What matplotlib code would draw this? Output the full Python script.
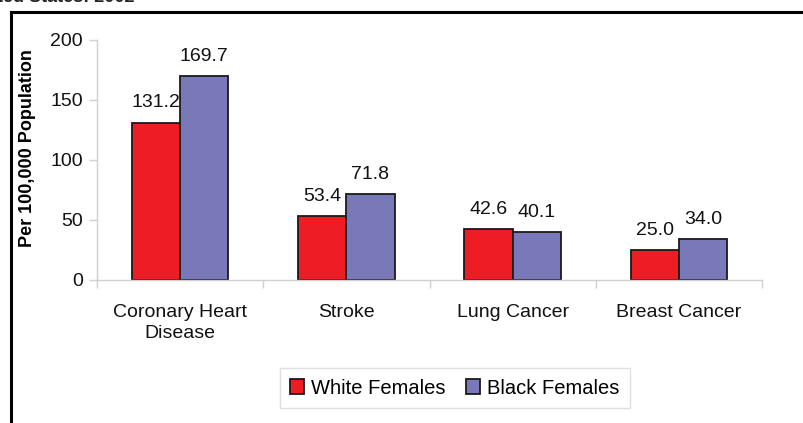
import numpy as np
import matplotlib
matplotlib.use("Agg")
import matplotlib.pyplot as plt
from matplotlib.lines import Line2D

plt.rcParams['font.family'] = ['Liberation Sans', 'DejaVu Sans']

categories = ["Coronary Heart\nDisease", "Stroke", "Lung Cancer", "Breast Cancer"]
white_females = [131.2, 53.4, 42.6, 25.0]
black_females = [169.7, 71.8, 40.1, 34.0]
series_names = ["White Females", "Black Females"]
yticks = [0, 50, 100, 150, 200]

RED = "#EE1D24"
BLUE = "#7979BA"
AXGRAY = "#D0D0D0"

fig = plt.figure(figsize=(8.04, 4.23), dpi=100)
ax = fig.add_axes([97 / 804, 1 - 280 / 423, 665 / 804, 240 / 423])

x = np.arange(len(categories))
w = 0.29
b1 = ax.bar(x - w / 2, white_females, w, color=RED, edgecolor="#1a1a1a", lw=1.3,
            label=series_names[0])
b2 = ax.bar(x + w / 2, black_females, w, color=BLUE, edgecolor="#1a1a1a", lw=1.3,
            label=series_names[1])

for bars, vals in ((b1, white_females), (b2, black_females)):
    for r, v in zip(bars, vals):
        ax.annotate(f"{v:.1f}", xy=(r.get_x() + r.get_width() / 2, v),
                    xytext=(0, 8), textcoords="offset points",
                    ha="center", va="bottom", fontsize=14, color="#111111")

ax.set_xlim(-0.5, len(categories) - 0.5)
ax.set_ylim(0, 200)
ax.set_yticks(yticks)
ax.tick_params(axis="y", labelsize=14, length=6, width=1, color=AXGRAY,
               labelcolor="#111111", pad=4)
ax.set_xticks(x)
ax.set_xticklabels(categories, linespacing=1.35)
ax.tick_params(axis="x", which="major", length=0, labelsize=14, pad=17,
               labelcolor="#111111")
ax.set_xticks(np.arange(len(categories) + 1) - 0.5, minor=True)
ax.tick_params(axis="x", which="minor", length=6, width=1, color=AXGRAY)

for s in ("top", "right"):
    ax.spines[s].set_visible(False)
for s in ("left", "bottom"):
    ax.spines[s].set_color(AXGRAY)
    ax.spines[s].set_linewidth(1)

ax.set_ylabel("Per 100,000 Population", fontsize=13, fontweight="bold")
ax.yaxis.set_label_coords(-0.092, 0.55)

leg = ax.legend(loc="center", bbox_to_anchor=(455 / 804, 1 - 388 / 423),
                bbox_transform=fig.transFigure, ncol=2, fontsize=14.5,
                frameon=True, fancybox=False, edgecolor="#D8D8D8",
                handlelength=0.7, handleheight=0.7, handletextpad=0.35,
                columnspacing=1.0, borderpad=0.5)
leg.get_frame().set_linewidth(1)

# outer frame (cropped at right and bottom)
fig.add_artist(Line2D([11.5 / 804, 11.5 / 804], [1 - 12 / 423, 0], color="black",
                      lw=2.2, transform=fig.transFigure))
fig.add_artist(Line2D([11.5 / 804, 1], [1 - 12 / 423, 1 - 12 / 423], color="black",
                      lw=2.2, transform=fig.transFigure))

# cut-off title remnant at top
fig.text(135 / 804, 1 - 1.5 / 423, "United States: 2002", ha="right", va="baseline",
         fontsize=13, fontweight="bold", color="#222222")

fig.savefig("out.png", dpi=100)
